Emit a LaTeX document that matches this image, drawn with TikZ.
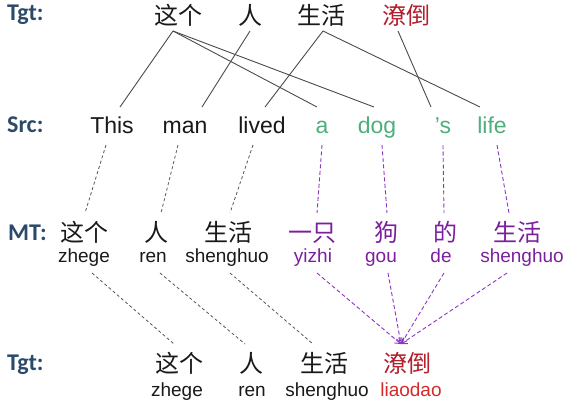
\documentclass[tikz,border=0pt]{standalone}
\usepackage{fontspec}
\setmainfont{Liberation Sans}
\newfontfamily\labfont{Carlito}
\newfontfamily\cjk{Noto Sans CJK SC}
\usetikzlibrary{arrows.meta}
\definecolor{labblue}{HTML}{2B4A6A}
\definecolor{srcgreen}{HTML}{4DAF7C}
\definecolor{mtpurple}{HTML}{7B1F9E}
\definecolor{dashpurple}{HTML}{8B35C8}
\definecolor{tgtred}{HTML}{B3202E}
\definecolor{pyred}{HTML}{D42A2A}
\definecolor{linegray}{HTML}{4A4A4A}
\definecolor{dashgray}{HTML}{555555}
\begin{document}
\begin{tikzpicture}[x=1pt,y=-1pt,
  lab/.style={anchor=base west, inner sep=0pt, font=\labfont\bfseries\fontsize{24}{24}\selectfont, text=labblue},
  zh/.style={anchor=base, inner sep=0pt, outer sep=0pt, font=\cjk\fontsize{24}{24}\selectfont, text=black!90},
  ttop/.style={zh, text height=20pt, text depth=7pt},
  src/.style={anchor=base, inner sep=0pt, outer sep=0pt, font=\fontsize{23}{23}\selectfont, text=black!90, text height=26pt, text depth=12pt},
  mtzh/.style={zh, text height=28pt, text depth=2pt},
  mtpy/.style={anchor=base, inner sep=0pt, outer sep=0pt, font=\fontsize{19}{19}\selectfont, text=black!90, text height=14pt, text depth=11pt},
  tbzh/.style={zh, text height=28pt, text depth=2pt},
  tbpy/.style={anchor=base, inner sep=0pt, outer sep=0pt, font=\fontsize{19}{19}\selectfont, text=black!90},
  align/.style={draw=linegray, line width=0.9pt},
  dgray/.style={draw=dashgray, line width=0.8pt, dash pattern=on 3pt off 2.5pt},
  dpurp/.style={draw=dashpurple, line width=0.9pt, dash pattern=on 4pt off 2.5pt},
  parrow/.style={dpurp, -{Straight Barb[length=5pt,width=7pt]}}
]
\path[use as bounding box] (0,0) rectangle (565,405);

% row labels
\node[lab] (l1) at (7,20.5) {Tgt:};
\node[lab] (l2) at (7,132) {Src:};
\node[lab] (l3) at (8,240) {MT:};
\node[lab] (l4) at (7,370.5) {Tgt:};

% top target
\node[ttop] (t1) at (178,24) {这个};
\node[ttop] (t2) at (250,24) {人};
\node[ttop] (t3) at (321,24) {生活};
\node[ttop,text=tgtred] (t4) at (406,24) {潦倒};

% source
\node[src] (s1) at (112,133) {This};
\node[src] (s2) at (185,133) {man};
\node[src] (s3) at (262,133) {lived};
\node[src,text=srcgreen] (s4) at (322,133) {a};
\node[src,text=srcgreen] (s5) at (377,133) {dog};
\node[src,text=srcgreen] (s6) at (443,133) {’s};
\node[src,text=srcgreen] (s7) at (492,133) {life};

% MT chinese
\node[mtzh] (m1) at (84,241) {这个};
\node[mtzh] (m2) at (156,241) {人};
\node[mtzh] (m3) at (228,241) {生活};
\node[mtzh,text=mtpurple] (m4) at (312,241) {一只};
\node[mtzh,text=mtpurple] (m5) at (386,241) {狗};
\node[mtzh,text=mtpurple] (m6) at (445,241) {的};
\node[mtzh,text=mtpurple] (m7) at (517,241) {生活};

% MT pinyin
\node[mtpy] (p1) at (84,262) {zhege};
\node[mtpy] (p2) at (153,262) {ren};
\node[mtpy] (p3) at (227,262) {shenghuo};
\node[mtpy,text=mtpurple] (p4) at (313,262) {yizhi};
\node[mtpy,text=mtpurple] (p5) at (381,262) {gou};
\node[mtpy,text=mtpurple] (p6) at (441,262) {de};
\node[mtpy,text=mtpurple] (p7) at (522,262) {shenghuo};

% bottom target
\node[tbzh] (b1) at (179,372) {这个};
\node[tbzh] (b2) at (251,372) {人};
\node[tbzh] (b3) at (324,372) {生活};
\node[tbzh,text=tgtred] (b4) at (407,372) {潦倒};
\node[tbpy] (q1) at (177,396) {zhege};
\node[tbpy] (q2) at (252,396) {ren};
\node[tbpy] (q3) at (327,396) {shenghuo};
\node[tbpy,text=pyred] (q4) at (411,396) {liaodao};

% word alignment Tgt - Src
\draw[align] ([xshift=-5pt]t1.south) -- ([xshift=8pt]s1.north);
\draw[align] ([xshift=-5pt]t1.south) -- ([xshift=-5pt]s4.north);
\draw[align] ([xshift=-5pt]t1.south) -- ([xshift=-3pt]s5.north);
\draw[align] (t2.south) -- ([xshift=17pt]s2.north);
\draw[align] ([xshift=2pt]t3.south) -- ([xshift=3pt]s3.north);
\draw[align] ([xshift=2pt]t3.south) -- ([xshift=-12pt]s7.north);
\draw[align] ([xshift=-8pt]t4.south) -- ([xshift=-12pt]s6.north);

% Src - MT
\draw[dgray] ([xshift=-6pt]s1.south) -- ([xshift=1pt]m1.north);
\draw[dgray] ([xshift=-7pt]s2.south) -- ([xshift=5pt]m2.north);
\draw[dgray] ([xshift=-9pt]s3.south) -- ([xshift=2pt]m3.north);
\draw[dpurp] (s4.south) -- ([xshift=5pt]m4.north);
\draw[dpurp] ([xshift=5pt]s5.south) -- ([xshift=1pt]m5.north);
\draw[dpurp] (s6.south) -- ([xshift=-1pt]m6.north);
\draw[dpurp] ([xshift=5pt]s7.south) -- ([xshift=-8pt]m7.north);

% MT - Tgt
\draw[dgray] ([xshift=8pt]p1.south) -- ([xshift=-5pt]b1.north);
\draw[dgray] ([xshift=7pt]p2.south) -- ([xshift=-6pt]b2.north);
\draw[dgray] ([xshift=3pt]p3.south) -- ([xshift=-11pt]b3.north);
\draw[parrow] ([xshift=4pt]p4.south) -- ([xshift=-6pt]b4.north);
\draw[parrow] ([xshift=7pt]p5.south) -- ([xshift=-6pt]b4.north);
\draw[parrow] ([xshift=3pt]p6.south) -- ([xshift=-6pt]b4.north);
\draw[parrow] ([xshift=-15pt]p7.south) -- ([xshift=-6pt]b4.north);
\end{tikzpicture}
\end{document}
